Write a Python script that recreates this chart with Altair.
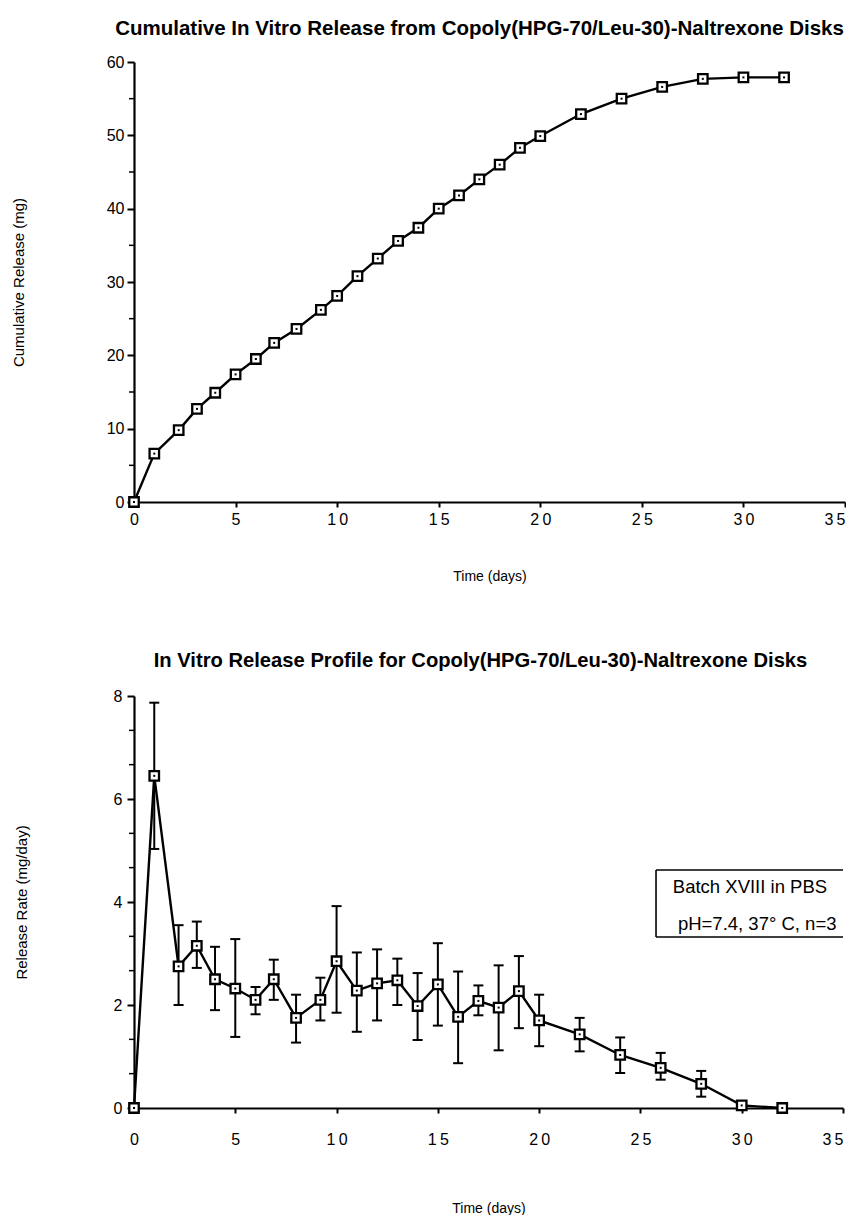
import altair as alt
import pandas as pd

# ---- data ----
days = [0, 1, 2.2, 3.1, 4, 5, 6, 6.9, 8, 9.2, 10, 11, 12, 13, 14, 15, 16, 17, 18, 19,
        20, 22, 24, 26, 28, 30, 32]
cumulative_mg = [0, 6.6, 9.8, 12.7, 14.9, 17.4, 19.5, 21.7, 23.6, 26.2, 28.1, 30.8, 33.2,
                 35.6, 37.4, 40.0, 41.8, 44.0, 46.0, 48.3, 49.9, 52.9, 55.0, 56.6, 57.7,
                 57.9, 57.9]
rate = [0, 6.45, 2.75, 3.15, 2.5, 2.32, 2.1, 2.5, 1.75, 2.1, 2.85, 2.28, 2.42, 2.48, 1.98,
        2.4, 1.77, 2.08, 1.95, 2.27, 1.7, 1.43, 1.03, 0.78, 0.47, 0.05, 0.0]
rate_hi = [0, 7.87, 3.55, 3.62, 3.13, 3.28, 2.35, 2.88, 2.2, 2.53, 3.92, 3.02, 3.08, 2.9,
           2.62, 3.2, 2.65, 2.38, 2.77, 2.95, 2.2, 1.75, 1.37, 1.07, 0.72, 0.1, 0.0]
rate_lo = [0, 5.03, 2.0, 2.72, 1.9, 1.38, 1.82, 2.1, 1.27, 1.7, 1.85, 1.48, 1.7, 2.0, 1.32,
           1.6, 0.87, 1.8, 1.12, 1.55, 1.2, 1.1, 0.68, 0.55, 0.22, 0.0, 0.0]

x_ticks = [0, 5, 10, 15, 20, 25, 30, 35]
top_y_ticks = [0, 10, 20, 30, 40, 50, 60]
top_y_minor = [5, 15, 25, 35, 45, 55]
bot_y_ticks = [0, 2, 4, 6, 8]
bot_y_minor = [0.667, 1.333, 2.667, 3.333, 4.667, 5.333, 6.667, 7.333]

title_top = "Cumulative In Vitro Release from Copoly(HPG-70/Leu-30)-Naltrexone Disks"
title_bot = "In Vitro Release Profile for Copoly(HPG-70/Leu-30)-Naltrexone Disks"
note_lines = ["Batch XVIII in PBS", "pH=7.4, 37\u00b0 C, n=3"]

FONT = "Liberation Sans"
spaced = "join(split(datum.label, ''), '\u2009')"
last_label_right = alt.condition("datum.value == 35", alt.value("right"), alt.value("center"))

top_df = pd.DataFrame({"day": days, "cum": cumulative_mg})
bot_df = pd.DataFrame({"day": days, "rate": rate, "hi": rate_hi, "lo": rate_lo})
bar_df = bot_df[bot_df["hi"] > bot_df["lo"]]

MARK_SIZE = 90

# ---------------- top chart ----------------
xt = alt.X("day:Q", scale=alt.Scale(domain=[0, 35], nice=False),
           axis=alt.Axis(values=x_ticks, title="Time (days)", labelExpr=spaced,
                         labelFlush=False, labelAlign=last_label_right,
                         tickSize=5, labelPadding=4, titlePadding=42))
yt = alt.Y("cum:Q", scale=alt.Scale(domain=[0, 60], nice=False),
           axis=alt.Axis(values=top_y_ticks, title="Cumulative Release (mg)",
                         titleFontSize=15, tickSize=7, labelPadding=3, titlePadding=80))

tbase = alt.Chart(top_df)
t_line = tbase.mark_line(color="black", strokeWidth=2.4).encode(x=xt, y=yt)
t_pts = tbase.mark_point(shape="square", filled=True, fill="white", stroke="black",
                         strokeWidth=2.3, size=MARK_SIZE, opacity=1).encode(
    x="day:Q", y="cum:Q")
t_dot = tbase.mark_point(shape="square", filled=True, color="black", size=4,
                         opacity=1).encode(x="day:Q", y="cum:Q")
t_minor = alt.Chart(pd.DataFrame({"m": top_y_minor})).mark_rule(
    color="black", strokeWidth=1.5).encode(y="m:Q", x=alt.value(-5), x2=alt.value(0))

top = alt.layer(t_line, t_minor, t_pts, t_dot).properties(
    width=711, height=440,
    title=alt.Title(title_top, fontSize=20.5, fontWeight="bold", font=FONT,
                    anchor="middle", offset=15, dx=-10, color="black"))

# ---------------- bottom chart ----------------
xb = alt.X("day:Q", scale=alt.Scale(domain=[0, 35], nice=False),
           axis=alt.Axis(values=x_ticks, title="Time (days)", labelExpr=spaced,
                         labelFlush=False, labelAlign=last_label_right,
                         tickSize=5, labelPadding=18, titlePadding=54))
yb = alt.Y("rate:Q", scale=alt.Scale(domain=[0, 8], nice=False),
           axis=alt.Axis(values=bot_y_ticks, title="Release Rate (mg/day)",
                         titleFontSize=15, tickSize=7, labelPadding=5, titlePadding=84))

bbase = alt.Chart(bot_df)
b_err = alt.Chart(bar_df).mark_rule(color="black", strokeWidth=2).encode(
    x="day:Q", y="lo:Q", y2="hi:Q")
b_cap_hi = alt.Chart(bar_df).mark_tick(color="black", thickness=2, size=10,
                                       orient="horizontal", opacity=1).encode(
    x="day:Q", y="hi:Q")
b_cap_lo = alt.Chart(bar_df).mark_tick(color="black", thickness=2, size=10,
                                       orient="horizontal", opacity=1).encode(
    x="day:Q", y="lo:Q")
b_line = bbase.mark_line(color="black", strokeWidth=2.4).encode(x=xb, y=yb)
b_pts = bbase.mark_point(shape="square", filled=True, fill="white", stroke="black",
                         strokeWidth=2.3, size=MARK_SIZE, opacity=1).encode(
    x="day:Q", y="rate:Q")
b_dot = bbase.mark_point(shape="square", filled=True, color="black", size=4,
                         opacity=1).encode(x="day:Q", y="rate:Q")
b_minor = alt.Chart(pd.DataFrame({"m": bot_y_minor})).mark_rule(
    color="black", strokeWidth=1.5).encode(y="m:Q", x=alt.value(-5), x2=alt.value(0))

# annotation box: open on the right, where the reference runs off the page
box_df = pd.DataFrame({"x": [25.77], "x2": [35.0], "y": [3.32], "y2": [4.62]})
edge_h = pd.DataFrame({"x": [25.77, 25.77], "x2": [35.0, 35.0], "y": [3.32, 4.62]})
note_df = pd.DataFrame({"x": [26.6, 26.85], "y": [4.29, 3.58], "t": note_lines})
b_box = alt.Chart(box_df).mark_rect(fill="white", strokeWidth=0).encode(
    x="x:Q", x2="x2:Q", y="y:Q", y2="y2:Q")
b_box_h = alt.Chart(edge_h).mark_rule(color="black", strokeWidth=1.6).encode(
    x="x:Q", x2="x2:Q", y="y:Q")
b_box_l = alt.Chart(box_df).mark_rule(color="black", strokeWidth=1.6).encode(
    x="x:Q", y="y:Q", y2="y2:Q")
b_note = alt.Chart(note_df).mark_text(align="left", baseline="middle", fontSize=18.5,
                                      font=FONT, color="black").encode(
    x="x:Q", y="y:Q", text="t:N")

bottom = alt.layer(b_line, b_err, b_cap_hi, b_cap_lo, b_minor, b_pts, b_dot,
                   b_box, b_box_h, b_box_l, b_note).properties(
    width=709, height=412,
    title=alt.Title(title_bot, fontSize=20.2, fontWeight="bold", font=FONT,
                    anchor="middle", offset=17, dx=-8, color="black"))

chart = alt.vconcat(top, bottom, spacing=67).properties(
    padding={"left": 3, "top": 10, "right": 0, "bottom": 0}
).configure_view(stroke=None).configure_axis(
    grid=False, domainColor="black", domainWidth=2.2, tickColor="black", tickWidth=2,
    labelFont=FONT, labelFontSize=16, labelColor="black", titleFont=FONT,
    titleFontSize=14, titleFontWeight="normal", titleColor="black"
).configure_concat(spacing=67)

chart.save("out.html", embed_options={"renderer": "svg", "actions": False})
